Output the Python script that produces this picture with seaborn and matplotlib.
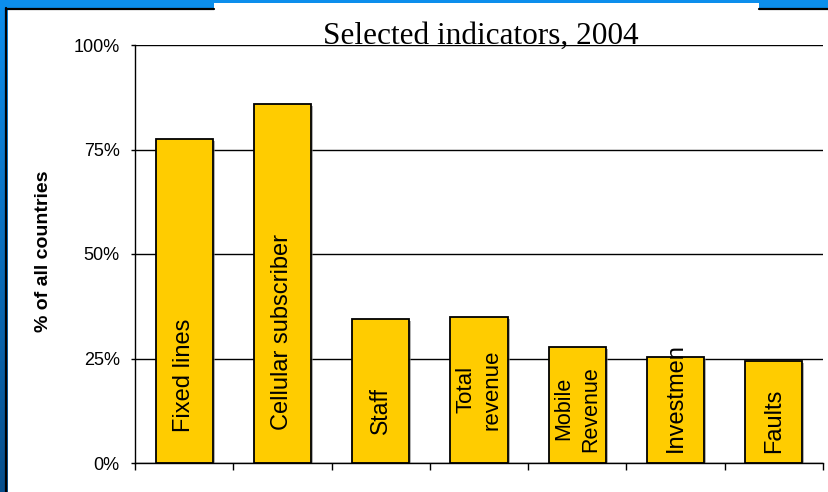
import numpy as np
import pandas as pd
import seaborn as sns
import matplotlib.pyplot as plt
import matplotlib.patheffects as pe
from matplotlib.patches import Rectangle

# data
categories = ['Fixed lines', 'Cellular subscriber', 'Staff', 'Total revenue',
              'Mobile Revenue', 'Investment', 'Faults']
bar_labels = ['Fixed lines', 'Cellular subscriber', 'Staff', 'Total\nrevenue',
              'Mobile\nRevenue', 'Investmen', 'Faults']
shares = [77.5, 85.9, 34.5, 35.0, 27.8, 25.4, 24.5]
yticks = [0, 25, 50, 75, 100]
ytick_labels = ['0%', '25%', '50%', '75%', '100%']

# where the rotated labels sit inside the bars (in % units) and their size
label_y = [21.0, 31.3, 12.6, 17.6, 13.0, 15.7, 10.2]
label_size = [17, 17, 16.5, 16, 15.5, 17, 17]

df = pd.DataFrame({'indicator': categories, 'share': shares})

sns.set_style('white')
plt.rcParams['font.family'] = ['Liberation Sans', 'DejaVu Sans']
plt.rcParams['text.color'] = 'black'
plt.rcParams['xtick.color'] = 'black'
plt.rcParams['ytick.color'] = 'black'
plt.rcParams['axes.labelcolor'] = 'black'

fig = plt.figure(figsize=(8.29, 4.92), dpi=100)

# blue slide background with white panel
bg = fig.add_axes([0, 0, 1, 1])
bg.set_xlim(0, 829)
bg.set_ylim(492, 0)
bg.axis('off')
g = np.linspace(0, 1, 492)[:, None, None]
top = np.array([0.05, 0.56, 0.93])
bottom = np.array([0.03, 0.31, 0.55])
img = top * (1 - g) + bottom * g
bg.imshow(img, extent=[0, 829, 492, 0], aspect='auto')
bg.add_patch(Rectangle((8, 10), 821, 482, facecolor='white', edgecolor='none'))
bg.plot([6.5, 6.5], [8, 492], color='black', lw=1.6)
bg.plot([6.5, 214], [8.5, 8.5], color='black', lw=1.6)
bg.plot([759, 829], [8.5, 8.5], color='black', lw=1.6)
bg.add_patch(Rectangle((214, 3), 545, 8, facecolor='white', edgecolor='none'))

ax = fig.add_axes([135 / 829, 29 / 492, 688 / 829, 418 / 492])
ax.set_facecolor('white')
sns.barplot(data=df, x='indicator', y='share', color='#FFCC00', saturation=1,
            edgecolor='black', linewidth=1.3, width=0.58, ax=ax)

for bar in ax.patches:
    bar.set_path_effects([pe.SimplePatchShadow(offset=(1.5, -1.5), shadow_rgbFace='0.5', alpha=0.6),
                          pe.Normal()])

for i, lab in enumerate(bar_labels):
    ax.text(i, label_y[i], lab, rotation=90, ha='center', va='center', color='black',
            fontsize=label_size[i], linespacing=1.35, multialignment='center')

ax.set_xlim(-0.5, 6.5)
ax.set_ylim(0, 100)
ax.set_axisbelow(True)
ax.yaxis.grid(True, color='black', lw=1)
ax.set_xticks(np.arange(-0.5, 7, 1))
ax.set_xticklabels([])
ax.set_yticks(yticks)
ax.set_yticklabels(ytick_labels, fontsize=13)
ax.tick_params(axis='x', direction='out', length=5, width=1, color='black', bottom=True)
ax.tick_params(axis='y', direction='out', length=3, width=1, color='black', pad=8, left=True)
ax.set_xlabel('')
ax.set_ylabel('')
for s in ['top', 'right']:
    ax.spines[s].set_visible(False)
for s in ['left', 'bottom']:
    ax.spines[s].set_color('black')
    ax.spines[s].set_linewidth(1)

fig.text(481 / 829, (492 - 44) / 492, 'Selected indicators, 2004', ha='center', va='baseline',
         family='Liberation Serif', fontsize=22.5, color='black')
fig.text(44 / 829, 241 / 492, '% of all countries', rotation=90, ha='center', va='center',
         fontweight='bold', fontsize=14, color='black')

fig.savefig('out.png', dpi=100)
